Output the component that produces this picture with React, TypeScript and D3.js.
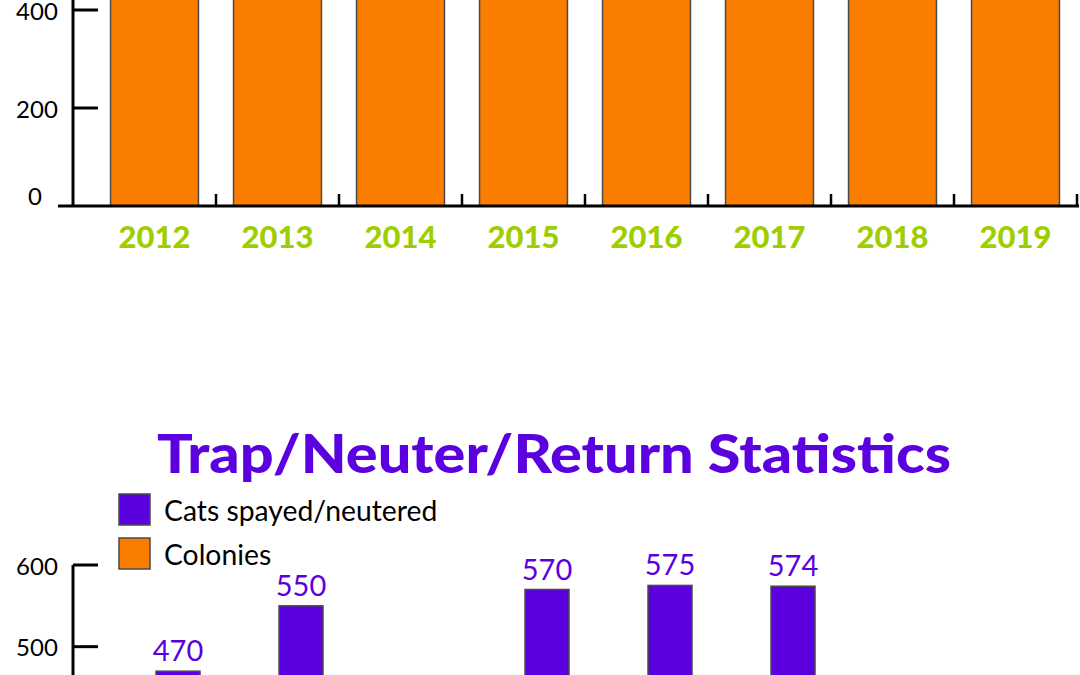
import React from "react";
import * as d3 from "d3";

const years = ["2012", "2013", "2014", "2015", "2016", "2017", "2018", "2019"];
// Top chart: bars run past the top edge of the picture (values above ~420)
const topValues = [520, 540, 530, 560, 580, 600, 560, 540];
const topTicks = [0, 200, 400];
// Bottom chart (2014, 2018, 2019 bars fall below the picture's lower edge)
const catsSpayed = [470, 550, 410, 570, 575, 574, 400, 380];
const colonies = [60, 70, 65, 80, 85, 90, 75, 70];
const bottomTicks = [500, 600];
const title = "Trap/Neuter/Return Statistics";
const legendItems = [
  { label: "Cats spayed/neutered", color: "#5b00de" },
  { label: "Colonies", color: "#fb7d00" },
];

const W = 1080;
const H = 675;
const ORANGE = "#fb7d00";
const PURPLE = "#5b00de";
const GREEN = "#9fce00";
const FONT = "Lato, 'Open Sans', sans-serif";

export default function App() {
  // ---- top chart scales
  const xTop = d3.scaleBand<string>().domain(years).range([93, 1077]).paddingInner(0.285).paddingOuter(0.1425);
  const yTop = d3.scaleLinear().domain([0, 400]).range([206, 10]);
  const stepTop = xTop.step();
  const bandStart = 93;

  // ---- bottom chart scales
  const xBot = d3.scaleBand<string>().domain(years).range([93, 1077]).paddingInner(0.26).paddingOuter(0.13);
  const inner = d3.scaleBand<string>().domain(["colonies", "cats"]).range([0, xBot.bandwidth()]).paddingInner(0.065);
  const yBot = d3.scaleLinear().domain([0, 600]).range([1055, 565]);

  return (
    <svg width={W} height={H} style={{ position: "absolute", left: 0, top: 0, background: "#fff" }} fontFamily={FONT}>
      <rect x={0} y={0} width={W} height={H} fill="#fff" />
      {/* ===== Top chart ===== */}
      {years.map((yr, i) => (
        <rect
          key={"tb" + yr}
          x={xTop(yr)}
          y={yTop(topValues[i])}
          width={xTop.bandwidth()}
          height={yTop(0) - yTop(topValues[i])}
          fill={ORANGE}
          stroke="#4a4a4a"
          strokeWidth={1.5}
        />
      ))}
      {/* y axis */}
      <line x1={73} x2={73} y1={0} y2={yTop(0)} stroke="#000" strokeWidth={3} />
      {topTicks.map((t) => (
        <g key={"tt" + t}>
          {t > 0 && <line x1={73} x2={98} y1={yTop(t)} y2={yTop(t)} stroke="#000" strokeWidth={3} />}
          <text x={t === 0 ? 35 : 37} y={t === 0 ? yTop(t) - 11 : yTop(t)} textAnchor="middle" dominantBaseline="central" fontSize={24} fill="#000">
            {t}
          </text>
        </g>
      ))}
      {/* baseline */}
      <line x1={58} x2={1079} y1={yTop(0)} y2={yTop(0)} stroke="#000" strokeWidth={3} />
      {years.map((yr, i) => {
        const bx = bandStart + (i + 1) * stepTop;
        return <line key={"ct" + yr} x1={bx} x2={bx} y1={yTop(0)} y2={yTop(0) - 12} stroke="#000" strokeWidth={2.5} />;
      })}
      {years.map((yr) => (
        <text
          key={"yl" + yr}
          x={(xTop(yr) as number) + xTop.bandwidth() / 2}
          y={236}
          textAnchor="middle"
          dominantBaseline="central"
          fontSize={31}
          fontWeight={900}
          fill={GREEN}
        >
          {yr}
        </text>
      ))}

      {/* ===== Bottom chart ===== */}
      <text x={554} y={452} textAnchor="middle" dominantBaseline="central" fontSize={54} fontWeight={900} fill={PURPLE} textLength={794} lengthAdjust="spacingAndGlyphs">
        {title}
      </text>
      {legendItems.map((it, i) => (
        <g key={"lg" + i} transform={`translate(119, ${494 + i * 44})`}>
          <rect x={0} y={0} width={31} height={31} fill={it.color} stroke="#4a4a4a" strokeWidth={1.5} />
          <text x={45} y={16} dominantBaseline="central" fontSize={28.3} fill="#000">
            {it.label}
          </text>
        </g>
      ))}
      {/* y axis */}
      <line x1={73} x2={73} y1={yBot(600)} y2={H} stroke="#000" strokeWidth={3} />
      {bottomTicks.map((t) => (
        <g key={"bt" + t}>
          <line x1={73} x2={98} y1={yBot(t)} y2={yBot(t)} stroke="#000" strokeWidth={3} />
          <text x={37} y={yBot(t)} textAnchor="middle" dominantBaseline="central" fontSize={24} fill="#000">
            {t}
          </text>
        </g>
      ))}
      {years.map((yr, i) => {
        const gx = xBot(yr) as number;
        const labelY = yBot(catsSpayed[i]) - 10;
        return (
          <g key={"bb" + yr}>
            <rect
              x={gx + (inner("colonies") as number)}
              y={yBot(colonies[i])}
              width={inner.bandwidth()}
              height={yBot(0) - yBot(colonies[i])}
              fill={ORANGE}
              stroke="#4a4a4a"
              strokeWidth={1.5}
            />
            <rect
              x={gx + (inner("cats") as number)}
              y={yBot(catsSpayed[i])}
              width={inner.bandwidth()}
              height={yBot(0) - yBot(catsSpayed[i])}
              fill={PURPLE}
              stroke="#4a4a4a"
              strokeWidth={1.5}
            />
            {labelY - 22 < H && (
              <text
                x={gx + (inner("cats") as number) + inner.bandwidth() / 2}
                y={labelY}
                textAnchor="middle"
                fontSize={29}
                fill={PURPLE}
              >
                {catsSpayed[i]}
              </text>
            )}
          </g>
        );
      })}
    </svg>
  );
}
